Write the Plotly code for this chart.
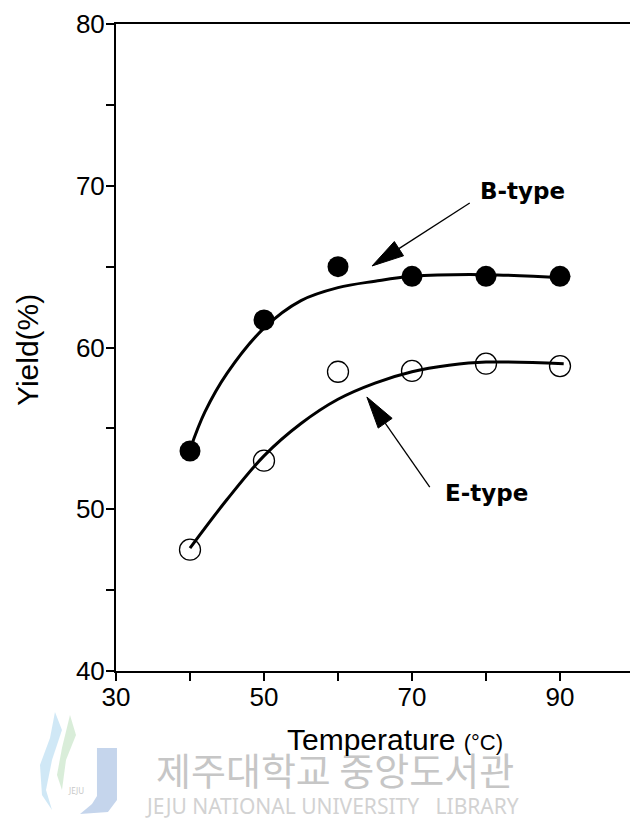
import math
import plotly.graph_objects as go

# ---- data ----
temperature = [40, 50, 60, 70, 80, 90]
yield_b = [53.6, 61.7, 65.0, 64.4, 64.4, 64.4]
yield_e = [47.5, 53.0, 58.5, 58.55, 59.0, 58.85]

# fitted trend curves
fit_b_x = [40, 42, 45, 50, 55, 60, 65, 70, 80, 90.5]
fit_b_y = [53.7, 56.0, 58.4, 61.2, 62.9, 63.7, 64.1, 64.4, 64.5, 64.3]
fit_e_x = [40, 45, 50, 55, 60, 65, 70, 75, 80, 90.5]
fit_e_y = [47.6, 50.6, 53.3, 55.3, 56.8, 57.8, 58.5, 58.9, 59.1, 59.0]

x_ticks = [30, 40, 50, 60, 70, 80, 90]
x_tick_text = ["30", "", "50", "", "70", "", "90"]
y_ticks = [40, 50, 60, 70, 80]

# ---- layout geometry ----
W, H = 630, 827
ML, MR, MT, MB = 116, 0, 24, 156
X0, X1 = 30, 99.46
Y0, Y1 = 40, 80
PW, PH = W - ML - MR, H - MT - MB
SX, SY = PW / (X1 - X0), PH / (Y1 - Y0)


def to_px(x, y):
    return ML + (x - X0) * SX, MT + (Y1 - y) * SY


def to_data(px, py):
    return X0 + (px - ML) / SX, Y1 - (py - MT) / SY


def to_paper(px, py):
    return (px - ML) / PW, (H - MB - py) / PH


fig = go.Figure()

fig.add_trace(go.Scatter(x=fit_b_x, y=fit_b_y, mode="lines",
                         line=dict(color="black", width=3, shape="spline", smoothing=1.0),
                         hoverinfo="skip", showlegend=False))
fig.add_trace(go.Scatter(x=fit_e_x, y=fit_e_y, mode="lines",
                         line=dict(color="black", width=3, shape="spline", smoothing=1.0),
                         hoverinfo="skip", showlegend=False))
fig.add_trace(go.Scatter(x=temperature, y=yield_b, mode="markers", name="B-type",
                         marker=dict(symbol="circle", size=21, color="black"),
                         showlegend=False))
fig.add_trace(go.Scatter(x=temperature, y=yield_e, mode="markers", name="E-type",
                         marker=dict(symbol="circle-open", size=21, color="black",
                                     line=dict(width=1.3, color="black")),
                         showlegend=False))

shapes = []


def add_arrow(tail, tip, head_len=32, half_w=8.5):
    tx, ty = to_px(*tail)
    hx, hy = to_px(*tip)
    dx, dy = tx - hx, ty - hy
    d = math.hypot(dx, dy)
    ux, uy = dx / d, dy / d
    bx, by = hx + ux * head_len, hy + uy * head_len
    nx, ny = -uy, ux
    p1 = to_data(bx + nx * half_w, by + ny * half_w)
    p2 = to_data(bx - nx * half_w, by - ny * half_w)
    base = to_data(bx, by)
    shapes.append(dict(type="line", xref="x", yref="y",
                       x0=tail[0], y0=tail[1], x1=base[0], y1=base[1],
                       line=dict(color="black", width=1.3)))
    path = "M{},{} L{},{} L{},{} Z".format(tip[0], tip[1], p1[0], p1[1], p2[0], p2[1])
    shapes.append(dict(type="path", xref="x", yref="y", path=path,
                       fillcolor="black", line=dict(color="black", width=1)))


add_arrow((77.8, 68.93), (64.6, 65.04))
add_arrow((72.4, 51.37), (63.9, 56.94))


# library logo (faint) at the lower left
def paper_path(points, close=True):
    pts = [to_paper(px, py) for px, py in points]
    s = "M" + " L".join("{:.4f},{:.4f}".format(a, b) for a, b in pts)
    return s + (" Z" if close else "")


shapes.append(dict(type="path", xref="paper", yref="paper",
                   path=paper_path([(97, 748), (117, 748), (117, 800), (108, 812),
                                    (80, 814), (92, 804), (97, 796)]),
                   fillcolor="rgba(150,178,220,0.55)", line=dict(width=0)))
shapes.append(dict(type="path", xref="paper", yref="paper",
                   path=paper_path([(55, 712), (62, 730), (52, 760), (46, 790), (52, 810),
                                    (42, 795), (40, 765), (50, 738)]),
                   fillcolor="rgba(150,205,235,0.45)", line=dict(width=0)))
shapes.append(dict(type="path", xref="paper", yref="paper",
                   path=paper_path([(70, 715), (76, 735), (66, 760), (62, 790),
                                    (57, 775), (62, 748)]),
                   fillcolor="rgba(170,215,170,0.45)", line=dict(width=0)))

annotations = []

# watermark text
kx, ky = to_paper(335, 768)
annotations.append(dict(xref="paper", yref="paper", x=kx, y=ky, showarrow=False,
                        text="제주대학교 중앙도서관", xanchor="center", yanchor="middle",
                        font=dict(family="Noto Sans CJK KR", size=38, color="#c6c6c6")))
ex, ey = to_paper(332, 806)
annotations.append(dict(xref="paper", yref="paper", x=ex, y=ey, showarrow=False,
                        text="JEJU NATIONAL UNIVERSITY&nbsp;&nbsp;&nbsp;LIBRARY",
                        xanchor="center", yanchor="middle",
                        font=dict(family="Noto Sans", size=21, color="#d2d2d2")))
lx, ly = to_paper(76, 790)
annotations.append(dict(xref="paper", yref="paper", x=lx, y=ly, showarrow=False,
                        text="JEJU", xanchor="center", yanchor="middle",
                        font=dict(family="Noto Sans", size=8, color="#c8c8c8")))

# axis titles
tx, ty = to_paper(285, 739)
annotations.append(dict(xref="paper", yref="paper", x=tx, y=ty, showarrow=False,
                        xanchor="left", yanchor="middle",
                        text="Temperature <span style='font-size:22px'>(°C)</span>",
                        font=dict(family="Liberation Sans", size=30, color="black")))
yx, yy = to_paper(27, 350)
annotations.append(dict(xref="paper", yref="paper", x=yx, y=yy, showarrow=False,
                        xanchor="center", yanchor="middle", textangle=-90,
                        text="Yield(%)",
                        font=dict(family="Liberation Sans", size=30, color="black")))

# series labels
annotations.append(dict(xref="x", yref="y", x=to_data(522, 191)[0], y=to_data(522, 191)[1],
                        showarrow=False, text="<b>B-type</b>", xanchor="center", yanchor="middle",
                        font=dict(family="DejaVu Sans", size=23, color="black")))
annotations.append(dict(xref="x", yref="y", x=to_data(486, 493)[0], y=to_data(486, 493)[1],
                        showarrow=False, text="<b>E-type</b>", xanchor="center", yanchor="middle",
                        font=dict(family="DejaVu Sans", size=23, color="black")))

fig.update_layout(
    width=W, height=H,
    margin=dict(l=ML, r=MR, t=MT, b=MB, pad=0),
    paper_bgcolor="white", plot_bgcolor="white",
    shapes=shapes, annotations=annotations,
    xaxis=dict(range=[X0, X1], tickvals=x_ticks, ticktext=x_tick_text,
               ticks="outside", ticklen=8, tickwidth=1.5, tickcolor="black",
               ticklabelstandoff=-6,
               showline=True, linecolor="black", linewidth=2, mirror=True,
               showgrid=False, zeroline=False,
               tickfont=dict(family="Liberation Sans", size=26, color="black")),
    yaxis=dict(range=[Y0, Y1], tickvals=y_ticks,
               ticks="outside", ticklen=8, tickwidth=1.5, tickcolor="black",
               ticklabelstandoff=-4,
               minor=dict(tickvals=[45, 55, 65, 75], ticks="outside", ticklen=8,
                          tickwidth=1.5, tickcolor="black"),
               showline=True, linecolor="black", linewidth=2,
               showgrid=False, zeroline=False,
               tickfont=dict(family="Liberation Sans", size=26, color="black")),
)

fig.write_html("out.html")
